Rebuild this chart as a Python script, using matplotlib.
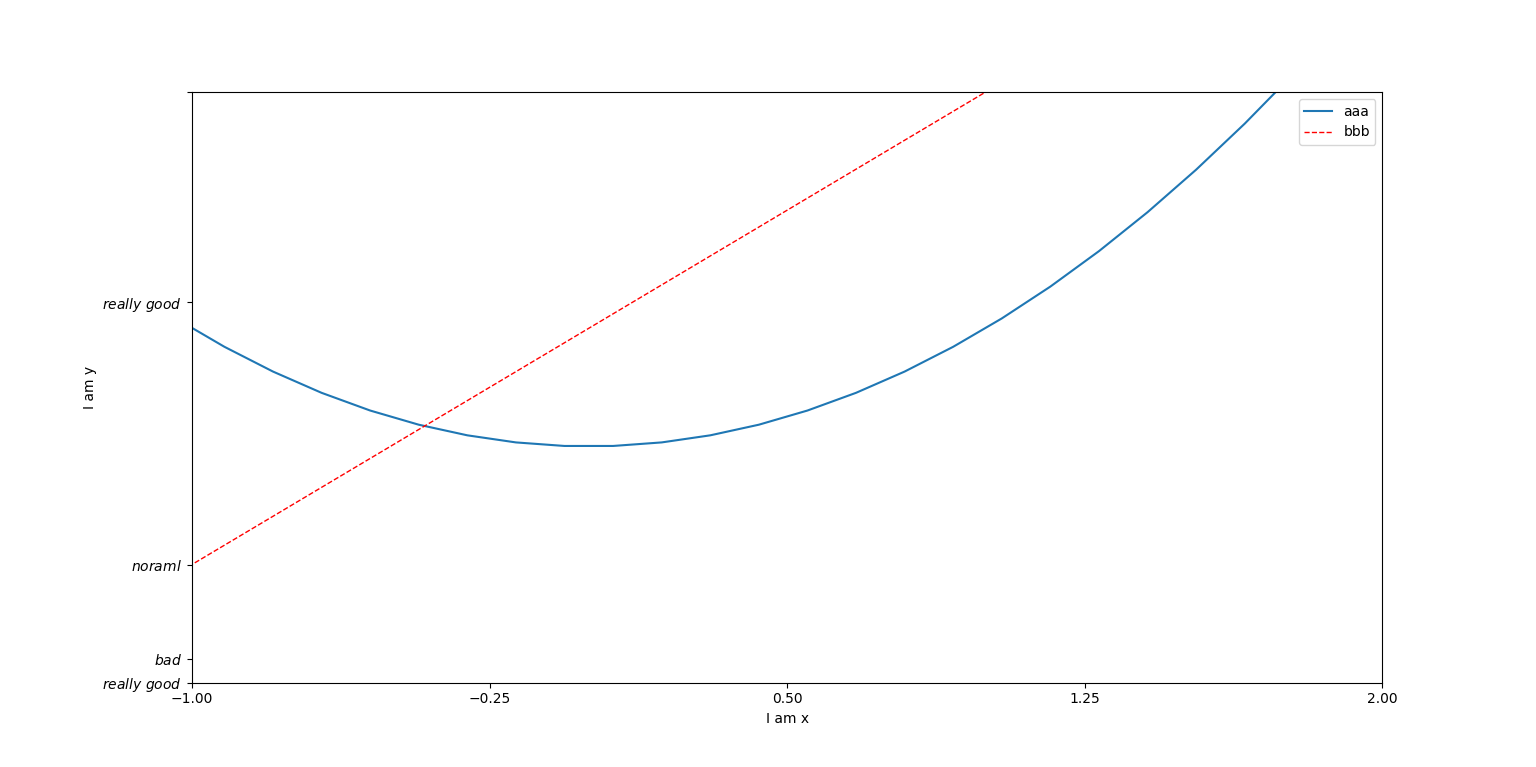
import matplotlib
matplotlib.use("Agg")
import matplotlib.pyplot as plt

# x の値 （表示範囲 -1 〜 2 とその少し外側）
x = [-1.0408, -0.9184, -0.7959, -0.6735, -0.5510, -0.4286, -0.3061, -0.1837,
     -0.0612, 0.0612, 0.1837, 0.3061, 0.4286, 0.5510, 0.6735, 0.7959,
     0.9184, 1.0408, 1.1633, 1.2857, 1.4082, 1.5306, 1.6531, 1.7755,
     1.8980, 2.0204]
# 曲線 aaa
aaa = [1.0833, 0.8434, 0.6335, 0.4536, 0.3036, 0.1837, 0.0937, 0.0337,
       0.0037, 0.0037, 0.0337, 0.0937, 0.1837, 0.3036, 0.4536, 0.6335,
       0.8434, 1.0833, 1.3532, 1.6531, 1.9830, 2.3428, 2.7326, 3.1524,
       3.6022, 4.0821]
# 直線 bbb
bbb = [-1.0816, -0.8367, -0.5918, -0.3469, -0.1020, 0.1429, 0.3878, 0.6327,
       0.8776, 1.1224, 1.3673, 1.6122, 1.8571, 2.1020, 2.3469, 2.5918,
       2.8367, 3.0816, 3.3265, 3.5714, 3.8163, 4.0612, 4.3061, 4.5510,
       4.7959, 5.0408]

x_ticks = [-1.0, -0.25, 0.5, 1.25, 2.0]
y_ticks = [-2, -1.8, -1, 1.22, 3]
y_labels = [r"$really\ good$", r"$bad$", r"$noraml$", r"$really\ good$", ""]

plt.figure(figsize=(15.36, 7.67), dpi=100)
plt.plot(x, aaa, label="aaa")
plt.plot(x, bbb, color="red", linewidth=1.0, linestyle="--", label="bbb")

plt.xlim(-1, 2)
plt.ylim(-2, 3)
plt.xlabel("I am x")
plt.ylabel("I am y")
plt.xticks(x_ticks)
plt.yticks(y_ticks, y_labels)
plt.legend(loc="upper right")

plt.savefig("out.png", dpi=100)
